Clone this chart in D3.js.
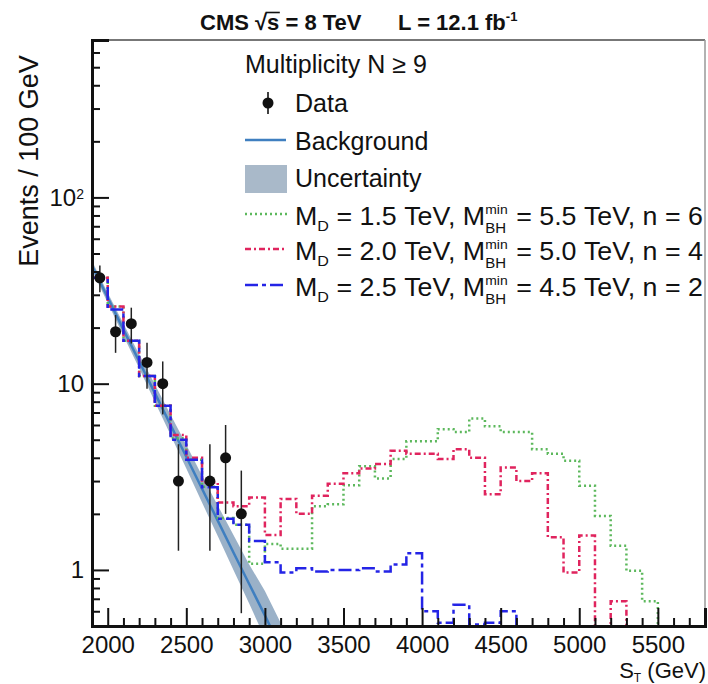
<!DOCTYPE html>
<html><head><meta charset="utf-8">
<script src="https://cdn.jsdelivr.net/npm/d3@7"></script>
<style>
html,body{margin:0;padding:0;background:#fff;}
text{font-family:"Liberation Sans",Arial,Helvetica,sans-serif;fill:#111;}
</style></head>
<body><svg id="c" width="708" height="684"></svg>
<script>
// ---------------- data ----------------
const binLow = [1900,2000,2100,2200,2300,2400,2500,2600,2700,2800,2900,3000,3100,3200,3300,3400,3500,3600,3700,3800,
                3900,4000,4100,4200,4300,4400,4500,4600,4700,4800,4900,5000,5100,5200,5300,5400,5500,5600,5700];
const binWidth = 100;
const sigGreen = [37,26,17,11,7.6,5.1,3.9,2.8,1.9,1.75,1.08,1.38,1.3,1.3,2.2,2.25,2.85,3.6,3.1,3.94,
                  4.9,4.9,5.7,5.5,6.5,5.9,5.5,5.5,4.45,4.2,3.86,2.83,1.95,1.35,0.99,0.68,0.1,0.1,0.1];
const sigRed   = [37,26,17,11,7.6,5.3,4.0,2.95,2.3,2.2,2.45,1.54,2.4,2.0,2.5,2.9,3.3,3.5,3.7,4.36,
                  4.2,4.2,3.94,4.45,4.0,2.55,3.55,3.0,3.3,1.5,0.97,1.53,0.1,0.68,0.1,0.1,0.1,0.1,0.1];
const sigBlue  = [37,25,17,11,7.6,5.0,3.9,2.78,1.88,1.75,1.43,1.1,0.97,1.02,0.98,1.0,1.0,1.02,0.98,1.07,
                  1.23,0.6,0.52,0.65,0.51,0.52,0.6,0.1,0.1,0.1,0.1,0.1,0.1,0.1,0.1,0.1,0.1,0.1,0.1];
const dataST  = [1950,2050,2150,2250,2350,2450,2650,2750,2850];
const dataN   = [37,19,21,13,10,3,3,4,2];
const bgST    = [1900,2000,2100,2200,2300,2400,2500,2600,2700,2800,2900,3000,3100];
const bgVal   = [43,29,19.5,13.2,8.9,6.0,4.05,2.73,1.84,1.24,0.84,0.57,0.38];
const bgLow   = [40.5,27.2,18.1,12.1,8.0,5.3,3.5,2.3,1.52,1.0,0.66,0.43,0.28];
const bgHigh  = [45.5,30.8,21,14.4,9.9,6.8,4.7,3.2,2.22,1.54,1.07,0.77,0.52];
const xMajor = [2000,2500,3000,3500,4000,4500,5000,5500];
const xMajorLabels = ["2000","2500","3000","3500","4000","4500","5000","5500"];
const yMajor = [1,10,100];
const yMajorLabels = ["1","10","10|2"];

// ---------------- layout ----------------
const svg = d3.select("#c");
const L = 92, R = 705, T = 40, B = 626;
const x = d3.scaleLinear().domain([1900,5800]).range([L,R]);
const y = d3.scaleLog().domain([0.5,700]).range([B,T]);
const NB = "\u00A0";

svg.append("rect").attr("width",708).attr("height",684).attr("fill","#fff");

svg.append("clipPath").attr("id","clip").append("rect")
  .attr("x",L).attr("y",T).attr("width",R-L).attr("height",B-T);
const plot = svg.append("g").attr("clip-path","url(#clip)");

// uncertainty band
const band = d3.area().x((d,i)=>x(bgST[i])).y0((d,i)=>y(bgLow[i])).y1((d,i)=>y(bgHigh[i]));
plot.append("path").attr("d",band(bgST)).attr("fill","#8fa9c2").attr("opacity",0.9);
const bgLine = d3.line().x((d,i)=>x(bgST[i])).y((d,i)=>y(bgVal[i]));
plot.append("path").attr("d",bgLine(bgST)).attr("fill","none").attr("stroke","#3f7fc0").attr("stroke-width",2.5);

// step histograms
function stepPath(vals){
  const pts = vals.map((v,i)=>[x(binLow[i]), y(v)]);
  pts.push([x(binLow[binLow.length-1]+binWidth), y(vals[vals.length-1])]);
  return d3.line().curve(d3.curveStepAfter)(pts);
}
const series = [
  {vals:sigGreen, color:"#5cb85c", dash:"2,3"},
  {vals:sigRed,   color:"#e0245e", dash:"6,3,2,3"},
  {vals:sigBlue,  color:"#2424e6", dash:"13,4,4,4"}
];
series.forEach(s=>{
  plot.append("path").attr("d",stepPath(s.vals)).attr("fill","none")
    .attr("stroke",s.color).attr("stroke-width",2.5).attr("stroke-dasharray",s.dash);
});

// data points
const dg = plot.append("g");
dataST.forEach((st,i)=>{
  const n = dataN[i], e = Math.sqrt(n);
  dg.append("line").attr("x1",x(st)).attr("x2",x(st))
    .attr("y1",y(Math.max(n-e,0.3))).attr("y2",y(n+e)).attr("stroke","#222").attr("stroke-width",1.5);
  dg.append("circle").attr("cx",x(st)).attr("cy",y(n)).attr("r",5.5).attr("fill","#111");
});

// ---------------- axes ----------------
svg.append("line").attr("x1",L).attr("x2",R).attr("y1",T).attr("y2",T).attr("stroke","#777").attr("stroke-width",2);
svg.append("line").attr("x1",R).attr("x2",R).attr("y1",T).attr("y2",B).attr("stroke","#999").attr("stroke-width",1.5);

const xMinor = [];
for (let v=1900; v<=5800; v+=100) if (!xMajor.includes(v)) xMinor.push(v);
const xAxisMinor = d3.axisBottom(x).tickValues(xMinor).tickSize(-8).tickFormat("");
const xAxis = d3.axisBottom(x).tickValues(xMajor).tickSize(-18).tickPadding(10)
  .tickFormat((d,i)=>xMajorLabels[i]);
const gxm = svg.append("g").attr("transform",`translate(0,${B})`).call(xAxisMinor);
const gx = svg.append("g").attr("transform",`translate(0,${B})`).call(xAxis);
[gx,gxm].forEach(g=>{
  g.select(".domain").attr("stroke","#111").attr("stroke-width",3);
  g.selectAll(".tick line").attr("stroke","#111").attr("stroke-width",2);
});
gx.selectAll(".tick text").attr("font-size",24).attr("fill","#222");

const yMinor = [0.5,0.6,0.7,0.8,0.9,2,3,4,5,6,7,8,9,20,30,40,50,60,70,80,90,200,300,400,500,600,700];
const yAxisMinor = d3.axisLeft(y).tickValues(yMinor).tickSize(-8).tickFormat("");
const yAxis = d3.axisLeft(y).tickValues(yMajor).tickSize(-17).tickPadding(8).tickFormat("");
const gym = svg.append("g").attr("transform",`translate(${L},0)`).call(yAxisMinor);
const gy = svg.append("g").attr("transform",`translate(${L},0)`).call(yAxis);
[gy,gym].forEach(g=>{
  g.select(".domain").attr("stroke","#111").attr("stroke-width",3);
  g.selectAll(".tick line").attr("stroke","#111").attr("stroke-width",2);
});
gy.selectAll(".tick text").each(function(d,i){
  const t = d3.select(this).attr("font-size",24).attr("fill","#222");
  const parts = yMajorLabels[i].split("|");
  t.append("tspan").text(parts[0]);
  if (parts[1]) t.append("tspan").attr("font-size",14).attr("dy","-0.45em").text(parts[1]);
});

// axis titles
svg.append("text").attr("transform","translate(38,161) rotate(-90)").attr("text-anchor","middle")
  .attr("font-size",27).attr("fill","#222").text("Events / 100 GeV");
const xt = svg.append("text").attr("x",706).attr("y",678).attr("text-anchor","end").attr("font-size",22).attr("fill","#222");
xt.append("tspan").text("S");
xt.append("tspan").attr("font-size",12).attr("dy",4).text("T");
xt.append("tspan").attr("dy",-4).text(NB+"(GeV)");

// title
const tg = svg.append("g");
const tt = tg.append("text").attr("x",200).attr("y",30).attr("font-size",22).attr("font-weight","bold")
  .text("CMS √s = 8 TeV");
const sExt = tt.node().getExtentOfChar(5);
const rExt = tt.node().getExtentOfChar(4);
tg.append("line").attr("x1",rExt.x+rExt.width-1.5).attr("x2",sExt.x+sExt.width+0.5)
  .attr("y1",rExt.y+2.5).attr("y2",rExt.y+2.5).attr("stroke","#111").attr("stroke-width",1.6);
const tt2 = svg.append("text").attr("x",398).attr("y",30).attr("font-size",22).attr("font-weight","bold");
tt2.append("tspan").text("L = 12.1 fb");
tt2.append("tspan").attr("font-size",13).attr("dy",-9).text("-1");

// ---------------- legend ----------------
const FS = 25;
svg.append("text").attr("x",245).attr("y",73).attr("font-size",FS).text("Multiplicity N ≥ 9");
const lx = 295;
svg.append("line").attr("x1",268).attr("x2",268).attr("y1",92).attr("y2",114).attr("stroke","#111").attr("stroke-width",1.6);
svg.append("circle").attr("cx",268).attr("cy",103).attr("r",5.5).attr("fill","#111");
svg.append("text").attr("x",lx).attr("y",112).attr("font-size",FS).text("Data");
svg.append("line").attr("x1",245).attr("x2",286).attr("y1",140).attr("y2",140).attr("stroke","#3f7fc0").attr("stroke-width",2.5);
svg.append("text").attr("x",lx).attr("y",150).attr("font-size",FS).text("Background");
svg.append("rect").attr("x",245).attr("y",165).attr("width",42).attr("height",28).attr("fill","#a9b9c9");
svg.append("text").attr("x",lx).attr("y",187).attr("font-size",FS).text("Uncertainty");

const sigLabels = [
  ["1.5","5.5","6"],
  ["2.0","5.0","4"],
  ["2.5","4.5","2"]
];
const legY = [225,260,296];
sigLabels.forEach((lab,k)=>{
  const s = series[k];
  const yy = legY[k];
  svg.append("line").attr("x1",245).attr("x2",287).attr("y1",yy-11).attr("y2",yy-11)
    .attr("stroke",s.color).attr("stroke-width",2.5).attr("stroke-dasharray",s.dash);
  const g = svg.append("g");
  let cx = lx;
  function put(txt,size,dy){
    const t = g.append("text").attr("x",cx).attr("y",yy+dy).attr("font-size",size).text(txt);
    return t.node().getComputedTextLength();
  }
  cx += put("M",FS,0);
  cx += put("D",15,6);
  cx += put(NB+"="+NB+lab[0]+NB+"TeV,"+NB+"M",FS,0);
  const w1 = put("min",13,-11);
  const w2 = put("BH",14,8);
  cx += Math.max(w1,w2)+1;
  cx += put(NB+"="+NB+lab[1]+NB+"TeV,"+NB+"n"+NB+"="+NB+lab[2],FS,0);
  const sx = 408/(cx-lx);
  g.attr("transform",`translate(${lx},0) scale(${sx},1) translate(${-lx},0)`);
});
</script></body></html>
